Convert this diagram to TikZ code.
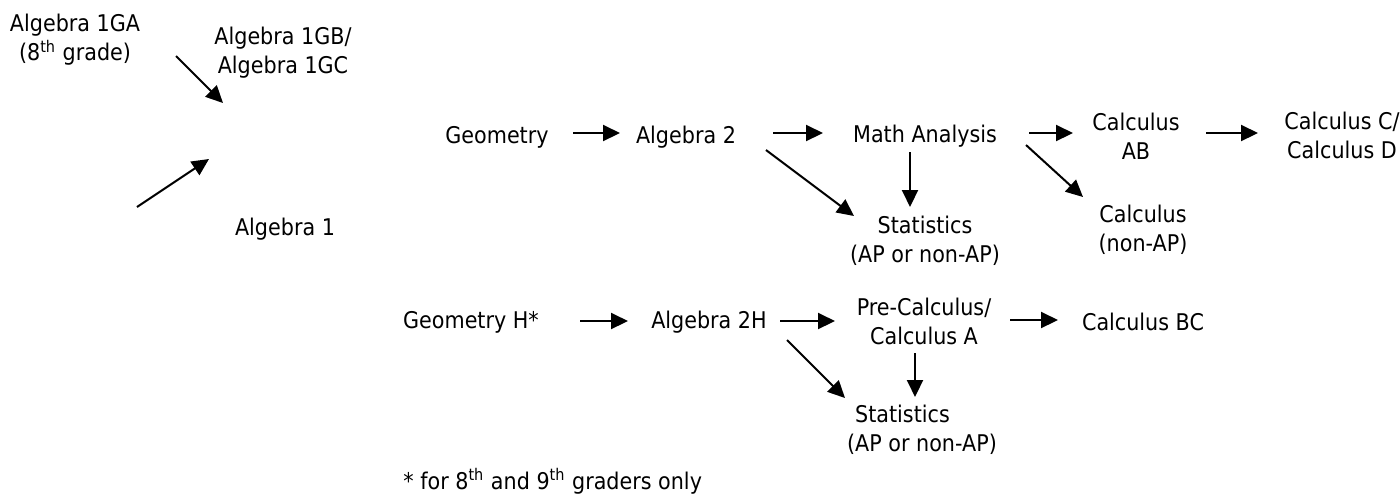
\documentclass[tikz,border=0pt]{standalone}
\usepackage{fontspec}
\setmainfont{DejaVu Sans}[FakeStretch=0.9]
\usetikzlibrary{positioning,arrows.meta}

\begin{document}
\begin{tikzpicture}[x=0.5pt,y=-0.5pt, every node/.style={align=center,font=\fontsize{11.5pt}{14.5pt}\selectfont,inner sep=0pt}, flow/.style={-{Triangle[length=8.5pt,width=8pt]},line width=1pt}]
\useasboundingbox (0,0) rectangle (1400,495);
% ninth grade start
\node (a1ga) at (75,40) {Algebra 1GA\\(8\textsuperscript{th} grade)};
\node (a1gb) at (283,53) {Algebra 1GB/\\Algebra 1GC};
\node (alg1) at (285,229) {Algebra 1};
\coordinate (to1) at (223,103);
\coordinate (from2) at (137,207);
\coordinate (to2) at (209,159);
% regular track
\node (geo) at (497,137) {Geometry};
\node (alg2) at (686,137) {Algebra 2};
\node (ma) at (925,136) {Math Analysis};
\node (stat1) at (925,241) {Statistics\\(AP or non-AP)};
\node (calcab) at (1136,136) {Calculus\\AB};
\node (calccd) at (1342,135) {Calculus C/\\Calculus D};
\node (calcna) at (1143,230) {Calculus\\(non-AP)};
% honors track
\node (geoh) at (471,322) {Geometry H*};
\node (alg2h) at (709,322) {Algebra 2H};
\node (precalc) at (924,321) {Pre-Calculus/\\Calculus A};
\node (calcbc) at (1143,322) {Calculus BC};
\node[align=left] (stat2) at (922,430) {\hspace*{4pt}Statistics\\(AP or non-AP)};
\node[anchor=base west] (note) at (403,489) {* for 8\textsuperscript{th} and 9\textsuperscript{th} graders only};
\draw[flow] ([shift={(101,16)}]a1ga.center) -- (to1);
\draw[flow] (from2) -- (to2);
\draw[flow] ([shift={(76,-4)}]geo.center) -- ([shift={(-66,-4)}]alg2.center);
\draw[flow] ([shift={(87,-4)}]alg2.center) -- ([shift={(-102,-3)}]ma.center);
\draw[flow] ([shift={(80,13)}]alg2.center) -- ([shift={(-71,-25)}]stat1.center);
\draw[flow] ([shift={(-15,16)}]ma.center) -- ([shift={(-15,-34)}]stat1.center);
\draw[flow] ([shift={(104,-3)}]ma.center) -- ([shift={(-63,-3)}]calcab.center);
\draw[flow] ([shift={(101,9)}]ma.center) -- ([shift={(-60,-33)}]calcna.center);
\draw[flow] ([shift={(70,-3)}]calcab.center) -- ([shift={(-84,-2)}]calccd.center);
\draw[flow] ([shift={(109,-1)}]geoh.center) -- ([shift={(-81,-1)}]alg2h.center);
\draw[flow] ([shift={(71,-1)}]alg2h.center) -- ([shift={(-89,0)}]precalc.center);
\draw[flow] ([shift={(86,-1)}]precalc.center) -- ([shift={(-85,-2)}]calcbc.center);
\draw[flow] ([shift={(78,18)}]alg2h.center) -- ([shift={(-77,-32)}]stat2.center);
\draw[flow] ([shift={(-9,32)}]precalc.center) -- ([shift={(-7,-33)}]stat2.center);
\end{tikzpicture}
\end{document}
